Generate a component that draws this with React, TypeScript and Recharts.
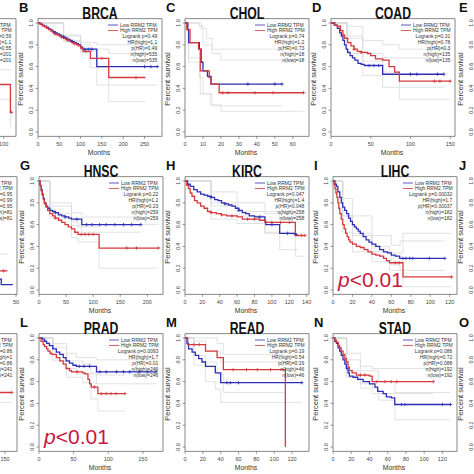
import React from "react";
import { ComposedChart, Line, XAxis, YAxis, ReferenceArea } from "recharts";

// each point: [months, survival, censored?]
type Pt = number[];

const yTicks = [0, 0.2, 0.4, 0.6, 0.8, 1.0];

// ---- A (cut off at the left) ----
const aLow: Pt[] = [[0, 1], [20, 0.85], [40, 0.72], [60, 0.62], [80, 0.55], [95, 0.5, 1]];
const aHigh: Pt[] = [[0, 1], [20, 0.83], [40, 0.68], [60, 0.58], [80, 0.5], [95, 0.436], [106, 0.18], [107, 0.18, 1]];
const aHighU: Pt[] = [[0, 1], [40, 0.8], [80, 0.62], [95, 0.57], [107, 0.57]];
const aHighL: Pt[] = [[0, 1], [40, 0.55], [80, 0.4], [95, 0.3], [106, 0.05], [107, 0.05]];
const aStats = ["Logrank p=0.59", "HR(high)=1.1", "p(HR)=0.55", "n(high)=201", "n(low)=201"];

// ---- B BRCA ----
const brcaTicks = [0, 50, 100, 150, 200, 250];
const brcaLow: Pt[] = [
  [0, 1], [5, 0.99], [10, 0.98], [15, 0.97], [20, 0.96], [25, 0.945], [30, 0.935], [35, 0.92],
  [40, 0.91, 1], [45, 0.9], [50, 0.89], [55, 0.88], [60, 0.87, 1], [65, 0.86], [70, 0.85],
  [75, 0.84], [80, 0.83, 1], [85, 0.82], [90, 0.81], [95, 0.8], [100, 0.78], [104, 0.76],
  [110, 0.76, 1], [118, 0.76, 1], [126, 0.76, 1], [138, 0.6], [250, 0.6, 1], [265, 0.6, 1], [280, 0.6, 1],
];
const brcaHigh: Pt[] = [
  [0, 1], [5, 0.99], [10, 0.975], [15, 0.965], [20, 0.95], [25, 0.94], [30, 0.925], [35, 0.91],
  [40, 0.9, 1], [45, 0.89], [50, 0.88], [55, 0.87, 1], [60, 0.86], [65, 0.85], [70, 0.84, 1],
  [75, 0.83], [80, 0.82], [85, 0.81, 1], [90, 0.8], [95, 0.79], [100, 0.77], [106, 0.74],
  [112, 0.74, 1], [123, 0.675], [150, 0.675, 1], [166, 0.5], [230, 0.5, 1], [252, 0.5],
];
const brcaLowU: Pt[] = [[0, 1], [60, 0.89], [100, 0.82], [138, 0.8], [280, 0.8]];
const brcaLowL: Pt[] = [[0, 1], [60, 0.84], [100, 0.74], [138, 0.43], [280, 0.43]];
const brcaHighU: Pt[] = [[0, 1], [60, 0.88], [100, 0.8], [123, 0.76], [166, 0.72], [252, 0.72]];
const brcaHighL: Pt[] = [[0, 1], [60, 0.83], [100, 0.73], [123, 0.59], [166, 0.28], [252, 0.28]];
const brcaStats = ["Logrank p=0.49", "HR(high)=1.1", "p(HR)=0.49", "n(high)=535", "n(low)=535"];

// ---- C CHOL ----
const cholTicks = [0, 10, 20, 30, 40, 50, 60];
const cholLow: Pt[] = [
  [0, 1], [1.5, 0.94], [2, 0.82], [8, 0.76], [9, 0.64], [10, 0.56], [12.5, 0.51], [14.5, 0.44],
  [35, 0.44, 1], [50, 0.44, 1], [54, 0.44, 1],
];
const cholHigh: Pt[] = [
  [0, 1], [1, 0.94], [2.8, 0.82], [7.5, 0.76], [8.5, 0.56], [13.5, 0.5], [14.5, 0.44], [19, 0.36],
  [21, 0.36, 1], [24, 0.36, 1], [39, 0.36, 1], [49, 0.36, 1], [66, 0.36, 1],
];
const cholLowU: Pt[] = [[0, 1], [9, 0.95], [12, 0.86], [15, 0.76], [54, 0.76]];
const cholLowL: Pt[] = [[0, 1], [2, 0.64], [8, 0.5], [10, 0.35], [15, 0.24], [54, 0.24]];
const cholHighU: Pt[] = [[0, 1], [8, 0.97], [10, 0.8], [15, 0.72], [20, 0.66], [66, 0.66]];
const cholHighL: Pt[] = [[0, 1], [2, 0.68], [8.5, 0.35], [14, 0.25], [20, 0.19], [66, 0.19]];
const cholStats = ["Logrank p=0.74", "HR(high)=1.2", "p(HR)=0.73", "n(high)=18", "n(low)=18"];

// ---- D COAD ----
const coadTicks = [0, 50, 100, 150];
const coadLow: Pt[] = [
  [0, 1], [4, 0.98], [8, 0.95], [11, 0.91], [13, 0.88], [15, 0.84], [17, 0.8], [19, 0.76],
  [21, 0.73], [24, 0.7], [27, 0.68], [30, 0.66], [34, 0.63], [38, 0.62], [42, 0.61],
  [48, 0.61, 1], [54, 0.61, 1], [60, 0.61, 1], [65, 0.53], [100, 0.53, 1], [108, 0.53, 1],
  [134, 0.53, 1], [142, 0.53, 1],
];
const coadHigh: Pt[] = [
  [0, 1], [5, 0.98], [8, 0.97], [12, 0.93], [15, 0.89], [17, 0.86], [21, 0.82], [25, 0.79],
  [29, 0.76, 1], [33, 0.74], [38, 0.73, 1], [46, 0.72], [50, 0.7], [56, 0.67], [65, 0.66],
  [73, 0.6], [80, 0.55], [86, 0.466], [130, 0.466, 1], [137, 0.466, 1], [150, 0.466, 1],
];
const coadLowU: Pt[] = [[0, 1], [20, 0.88], [40, 0.72], [65, 0.68], [142, 0.68]];
const coadLowL: Pt[] = [[0, 1], [20, 0.72], [40, 0.52], [65, 0.41], [142, 0.41]];
const coadHighU: Pt[] = [[0, 1], [20, 0.97], [40, 0.84], [65, 0.8], [86, 0.76], [150, 0.76]];
const coadHighL: Pt[] = [[0, 1], [20, 0.86], [40, 0.65], [65, 0.55], [86, 0.3], [150, 0.3]];
const coadStats = ["Logrank p=0.31", "HR(high)=0.78", "p(HR)=0.3", "n(high)=135", "n(low)=135"];

// ---- F (cut off at the left) ----
const fLow: Pt[] = [[0, 1], [10, 0.6], [20, 0.35], [30, 0.2], [40, 0.1], [44, 0.05], [48.7, 0.05]];
const fHigh: Pt[] = [[0, 1], [10, 0.62], [20, 0.38], [30, 0.25], [40, 0.176], [45, 0.176, 1], [46.5, 0.176]];
const fHighU: Pt[] = [[0, 1], [20, 0.52], [40, 0.33], [46.5, 0.33]];
const fStats = ["Logrank p=0.95", "HR(high)=0.99", "p(HR)=0.95", "n(high)=81", "n(low)=81"];

// ---- G HNSC ----
const hnscTicks = [0, 50, 100, 150, 200];
const hnscLow: Pt[] = [
  [0, 1], [2, 0.96], [4, 0.92], [6, 0.88], [8, 0.84], [10, 0.8], [13, 0.77], [16, 0.75],
  [20, 0.73], [25, 0.72], [30, 0.71, 1], [36, 0.69], [42, 0.68], [48, 0.67, 1], [55, 0.66],
  [60, 0.65], [70, 0.65, 1], [79, 0.6], [88, 0.6, 1], [98, 0.6, 1], [112, 0.6, 1], [124, 0.6, 1],
  [140, 0.6, 1], [156, 0.6, 1], [171, 0.6, 1], [188, 0.6, 1],
];
const hnscHigh: Pt[] = [
  [0, 1], [2, 0.96], [4, 0.91], [6, 0.87], [8, 0.83], [10, 0.79], [13, 0.76], [16, 0.73],
  [20, 0.7], [25, 0.68], [30, 0.66, 1], [36, 0.64], [42, 0.62], [48, 0.6], [54, 0.58],
  [60, 0.56], [66, 0.53], [72, 0.51], [78, 0.51, 1], [85, 0.51, 1], [92, 0.51, 1], [100, 0.51, 1],
  [111, 0.385], [162, 0.385, 1], [180, 0.385, 1], [221, 0.385, 1],
];
const hnscLowU: Pt[] = [[0, 1], [20, 0.8], [60, 0.71], [79, 0.67], [188, 0.67]];
const hnscLowL: Pt[] = [[0, 1], [20, 0.7], [60, 0.59], [79, 0.53], [188, 0.53]];
const hnscHighU: Pt[] = [[0, 1], [20, 0.77], [60, 0.63], [72, 0.58], [111, 0.6], [221, 0.6]];
const hnscHighL: Pt[] = [[0, 1], [20, 0.66], [60, 0.48], [72, 0.44], [111, 0.2], [221, 0.2]];
const hnscStats = ["Logrank p=0.22", "HR(high)=1.2", "p(HR)=0.23", "n(high)=259", "n(low)=259"];

// ---- H KIRC ----
const kircTicks = [0, 20, 40, 60, 80, 100, 120, 140];
const kircLow: Pt[] = [
  [0, 1], [3, 0.97], [6, 0.95], [10, 0.92], [14, 0.9], [18, 0.88], [22, 0.87], [26, 0.86],
  [30, 0.85, 1], [34, 0.83], [38, 0.82], [42, 0.8], [46, 0.79, 1], [50, 0.78], [54, 0.77],
  [58, 0.75], [62, 0.73, 1], [66, 0.71], [70, 0.7], [74, 0.68], [80, 0.67], [86, 0.67, 1],
  [92, 0.63], [93, 0.6], [100, 0.6, 1], [109, 0.52], [118, 0.52, 1], [126, 0.51], [128, 0.51, 1],
];
const kircHigh: Pt[] = [
  [0, 1], [2, 0.96], [4, 0.93], [6, 0.89], [8, 0.86], [11, 0.82], [14, 0.8], [18, 0.77],
  [22, 0.75], [26, 0.72], [30, 0.71, 1], [36, 0.7], [42, 0.69, 1], [48, 0.68], [54, 0.68, 1],
  [60, 0.67], [66, 0.65], [72, 0.65, 1], [80, 0.65, 1], [86, 0.64], [92, 0.62], [100, 0.62, 1],
  [110, 0.62, 1], [120, 0.62, 1], [127, 0.5], [134, 0.5, 1], [138, 0.5, 1],
];
const kircLowU: Pt[] = [[0, 1], [30, 0.9], [60, 0.8], [92, 0.72], [109, 0.66], [130, 0.66]];
const kircLowL: Pt[] = [[0, 1], [30, 0.8], [60, 0.68], [92, 0.52], [109, 0.37], [130, 0.37]];
const kircHighU: Pt[] = [[0, 1], [30, 0.77], [60, 0.72], [92, 0.7], [127, 0.68], [138, 0.68]];
const kircHighL: Pt[] = [[0, 1], [30, 0.65], [60, 0.61], [92, 0.53], [127, 0.31], [138, 0.31]];
const kircStats = ["Logrank p=0.047", "HR(high)=1.4", "p(HR)=0.048", "n(high)=258", "n(low)=258"];

// ---- I LIHC ----
const lihcTicks = [0, 20, 40, 60, 80, 100, 120];
const lihcLow: Pt[] = [
  [0, 1], [2, 0.97], [3.5, 0.95], [5, 0.9], [7, 0.85], [8.5, 0.8], [10, 0.76], [12, 0.73],
  [14, 0.7], [16, 0.66], [18, 0.63], [20, 0.6], [22, 0.58], [24, 0.56], [26, 0.54], [28, 0.52],
  [31, 0.49], [34, 0.46], [37, 0.44], [40, 0.42], [44, 0.4], [48, 0.37], [52, 0.35], [56, 0.34],
  [60, 0.32], [64, 0.31], [68.6, 0.29], [72, 0.29, 1], [75, 0.29, 1], [79, 0.29, 1], [82, 0.29, 1],
  [99, 0.29, 1], [115, 0.29, 1],
];
const lihcHigh: Pt[] = [
  [0, 1], [1, 0.97], [2, 0.93], [3, 0.89], [4, 0.85], [5, 0.8], [6, 0.75], [7, 0.7], [8.5, 0.65],
  [10, 0.6], [11.5, 0.56], [13, 0.52], [14.5, 0.49], [16, 0.46], [17.5, 0.44], [20, 0.42],
  [24, 0.4], [28, 0.39], [32, 0.37], [36, 0.35], [40, 0.33], [44, 0.32], [48, 0.31], [52, 0.29],
  [55, 0.27], [58, 0.25], [64, 0.25, 1], [68, 0.25, 1], [72, 0.12], [122, 0.12, 1],
];
const lihcLowU: Pt[] = [[0, 1], [10, 0.84], [20, 0.68], [40, 0.5], [60, 0.41], [69, 0.45], [115, 0.45]];
const lihcLowL: Pt[] = [[0, 1], [10, 0.68], [20, 0.52], [40, 0.35], [60, 0.23], [69, 0.18], [115, 0.18]];
const lihcHighU: Pt[] = [[0, 1], [10, 0.68], [20, 0.5], [40, 0.4], [58, 0.34], [72, 0.52], [122, 0.52]];
const lihcHighL: Pt[] = [[0, 1], [10, 0.53], [20, 0.35], [40, 0.26], [58, 0.18], [72, 0.03], [122, 0.03]];
const lihcStats = ["Logrank p=0.00032", "HR(high)=1.7", "p(HR)=0.00037", "n(high)=182", "n(low)=182"];

// ---- K (cut off at the left) ----
const kLow: Pt[] = [[0, 1], [50, 0.85], [100, 0.72], [130, 0.66, 1]];
const kHigh: Pt[] = [[0, 1], [50, 0.8], [100, 0.6], [130, 0.5], [159, 0.5, 1]];
const kHighL: Pt[] = [[0, 1], [100, 0.5], [130, 0.41], [159, 0.41]];
const kStats = ["Logrank p=0.86", "HR(high)=1", "p(HR)=0.86", "n(high)=241", "n(low)=241"];

// ---- L PRAD ----
const pradTicks = [0, 50, 100, 150];
const pradLow: Pt[] = [
  [0, 1], [5, 0.99], [8, 0.97], [11, 0.95], [15, 0.93], [20, 0.9], [25, 0.87], [30, 0.85],
  [35, 0.82], [39, 0.79], [44, 0.77], [49, 0.75], [54, 0.74], [58, 0.74, 1], [65, 0.74, 1],
  [73, 0.74, 1], [83, 0.69], [88, 0.69, 1], [97, 0.69, 1], [112, 0.69, 1], [122, 0.69, 1],
  [131, 0.69, 1], [145, 0.69, 1], [157, 0.69, 1], [169, 0.69, 1],
];
const pradHigh: Pt[] = [
  [0, 1], [3, 0.97], [6, 0.94], [8, 0.92], [11, 0.9], [13, 0.88], [16, 0.86], [18, 0.85],
  [25, 0.82], [30, 0.79], [35, 0.76], [39, 0.72], [44, 0.7], [47, 0.69], [55, 0.69, 1],
  [63, 0.68], [66, 0.67], [70.7, 0.62], [73, 0.58], [75.5, 0.55], [80, 0.55, 1], [85, 0.49],
  [90, 0.49, 1], [97, 0.49, 1], [104, 0.49, 1], [111, 0.49, 1], [124, 0.49, 1],
];
const pradLowU: Pt[] = [[0, 1], [20, 0.95], [40, 0.86], [54, 0.82], [83, 0.8], [169, 0.8]];
const pradLowL: Pt[] = [[0, 1], [20, 0.85], [40, 0.72], [54, 0.67], [83, 0.58], [169, 0.58]];
const pradHighU: Pt[] = [[0, 1], [20, 0.91], [40, 0.79], [63, 0.76], [75, 0.68], [85, 0.66], [124, 0.66]];
const pradHighL: Pt[] = [[0, 1], [20, 0.79], [40, 0.64], [63, 0.59], [75, 0.44], [85, 0.33], [124, 0.33]];
const pradStats = ["Logrank p=0.0093", "HR(high)=1.7", "p(HR)=0.01", "n(high)=246", "n(low)=246"];

// ---- M READ ----
const readTicks = [0, 20, 40, 60, 80, 100, 120];
const readLow: Pt[] = [
  [0, 1], [2.2, 0.95], [4, 0.9], [8, 0.87], [11.6, 0.84], [15.3, 0.81], [19, 0.78], [23, 0.74],
  [34, 0.68], [40, 0.59], [47, 0.59, 1], [51, 0.59, 1], [60, 0.59, 1], [131, 0.59, 1],
];
const readHigh: Pt[] = [
  [0, 1], [3, 0.94], [10, 0.94, 1], [16, 0.94, 1], [23, 0.88], [36, 0.82], [43, 0.71],
  [54, 0.71, 1], [69, 0.71, 1], [81, 0.71, 1], [96, 0.71, 1], [112.5, 0],
];
const readLowU: Pt[] = [[0, 1], [10, 0.97], [23, 0.88], [40, 0.78], [131, 0.78]];
const readLowL: Pt[] = [[0, 1], [10, 0.75], [23, 0.6], [34, 0.53], [40, 0.41], [131, 0.41]];
const readHighU: Pt[] = [[0, 1], [36, 0.95], [43, 0.85], [112, 0.85]];
const readHighL: Pt[] = [[0, 1], [10, 0.84], [23, 0.78], [36, 0.67], [43, 0.5], [112, 0.5]];
const readStats = ["Logrank p=0.19", "HR(high)=0.54", "p(HR)=0.19", "n(high)=46", "n(low)=46"];

// ---- N STAD ----
const stadTicks = [0, 20, 40, 60, 80, 100, 120];
const stadLow: Pt[] = [
  [0, 1], [2, 0.97], [3.7, 0.95], [5.5, 0.91], [7.3, 0.88], [9, 0.84], [11, 0.8], [13, 0.76],
  [14.6, 0.72], [16.5, 0.68], [18, 0.65], [22, 0.64], [27, 0.62], [33, 0.6], [40, 0.58],
  [46, 0.55], [49, 0.51], [55, 0.49], [58.5, 0.46], [64, 0.45], [67.7, 0.39], [75, 0.39, 1],
  [79, 0.39, 1], [120, 0.39, 1], [128.8, 0.39, 1],
];
const stadHigh: Pt[] = [
  [0, 1], [2, 0.98], [4, 0.96], [6, 0.93], [7.3, 0.91], [9, 0.88], [11, 0.85], [13, 0.81],
  [14.6, 0.78], [16.5, 0.73], [18, 0.7], [21, 0.68], [25.6, 0.66], [30, 0.66, 1], [35, 0.66, 1],
  [40, 0.65], [43, 0.6], [48, 0.6, 1], [57, 0.6, 1], [64, 0.6, 1], [70, 0.6, 1], [110, 0.6, 1],
];
const stadLowU: Pt[] = [[0, 1], [15, 0.8], [30, 0.7], [50, 0.6], [68, 0.5], [129, 0.5]];
const stadLowL: Pt[] = [[0, 1], [15, 0.64], [30, 0.54], [50, 0.43], [68, 0.25], [129, 0.25]];
const stadHighU: Pt[] = [[0, 1], [15, 0.86], [30, 0.74], [43, 0.72], [110, 0.72]];
const stadHighL: Pt[] = [[0, 1], [15, 0.7], [30, 0.58], [43, 0.49], [110, 0.49]];
const stadStats = ["Logrank p=0.086", "HR(high)=0.72", "p(HR)=0.088", "n(high)=192", "n(low)=192"];

const BLUE = "#2e2eb6";
const RED = "#d6393c";
const CI_GREY = "#d6d6d6";
const SIG = "#c8173c";
const FONT = "'Liberation Sans', Arial, Helvetica, sans-serif";

interface PanelDef {
  letter: string;
  title: string;
  x0: number; // page x of month 0
  y1: number; // page y of survival 1.0
  xMax: number;
  xTicks: number[];
  low: Pt[];
  high: Pt[];
  ci: Pt[][];
  stats: string[];
  sig?: boolean;
}

const panels: PanelDef[] = [
  { letter: "A", title: "", x0: -108.5, y1: 23, xMax: 111, xTicks: [0, 20, 40, 60, 80, 100], low: aLow, high: aHigh, ci: [aHighU, aHighL], stats: aStats },
  { letter: "B", title: "BRCA", x0: 38, y1: 23, xMax: 291, xTicks: brcaTicks, low: brcaLow, high: brcaHigh, ci: [brcaLowU, brcaLowL, brcaHighU, brcaHighL], stats: brcaStats },
  { letter: "C", title: "CHOL", x0: 185, y1: 23, xMax: 69, xTicks: cholTicks, low: cholLow, high: cholHigh, ci: [cholLowU, cholLowL, cholHighU, cholHighL], stats: cholStats },
  { letter: "D", title: "COAD", x0: 331, y1: 23, xMax: 156, xTicks: coadTicks, low: coadLow, high: coadHigh, ci: [coadLowU, coadLowL, coadHighU, coadHighL], stats: coadStats },
  { letter: "E", title: "", x0: 477.5, y1: 23, xMax: 100, xTicks: [0, 50, 100], low: [], high: [], ci: [], stats: [] },
  { letter: "F", title: "", x0: -107.5, y1: 180.5, xMax: 50.4, xTicks: [0, 10, 20, 30, 40, 50], low: fLow, high: fHigh, ci: [fHighU], stats: fStats },
  { letter: "G", title: "HNSC", x0: 39, y1: 180.5, xMax: 229, xTicks: hnscTicks, low: hnscLow, high: hnscHigh, ci: [hnscLowU, hnscLowL, hnscHighU, hnscHighL], stats: hnscStats },
  { letter: "H", title: "KIRC", x0: 185, y1: 180.5, xMax: 142.7, xTicks: kircTicks, low: kircLow, high: kircHigh, ci: [kircLowU, kircLowL, kircHighU, kircHighL], stats: kircStats },
  { letter: "I", title: "LIHC", x0: 333, y1: 180.5, xMax: 127.5, xTicks: lihcTicks, low: lihcLow, high: lihcHigh, ci: [lihcLowU, lihcLowL, lihcHighU, lihcHighL], stats: lihcStats, sig: true },
  { letter: "J", title: "", x0: 477.5, y1: 180.5, xMax: 100, xTicks: [0, 50, 100], low: [], high: [], ci: [], stats: [] },
  { letter: "K", title: "", x0: -107, y1: 338, xMax: 166, xTicks: [0, 50, 100, 150], low: kLow, high: kHigh, ci: [kHighL], stats: kStats },
  { letter: "L", title: "PRAD", x0: 39, y1: 338, xMax: 179, xTicks: pradTicks, low: pradLow, high: pradHigh, ci: [pradLowU, pradLowL, pradHighU, pradHighL], stats: pradStats, sig: true },
  { letter: "M", title: "READ", x0: 185, y1: 338, xMax: 139, xTicks: readTicks, low: readLow, high: readHigh, ci: [readLowU, readLowL, readHighU, readHighL], stats: readStats },
  { letter: "N", title: "STAD", x0: 333, y1: 338, xMax: 136, xTicks: stadTicks, low: stadLow, high: stadHigh, ci: [stadLowU, stadLowL, stadHighU, stadHighL], stats: stadStats },
  { letter: "O", title: "", x0: 477.5, y1: 338, xMax: 100, xTicks: [0, 50, 100], low: [], high: [], ci: [], stats: [] },
];

const toRows = (pts: Pt[]) => pts.map(([t, s, c]) => ({ t, s, c: c ? 1 : 0 }));

function censorDot(color: string) {
  return (props: any) => {
    const { cx, cy, payload, index } = props;
    if (!payload || !payload.c || cx == null || cy == null) return <g key={`n${index}`} />;
    return (
      <path
        key={`c${index}`}
        d={`M${cx - 1.7},${cy}H${cx + 1.7}M${cx},${cy - 1.7}V${cy + 1.7}`}
        stroke={color}
        strokeWidth={0.8}
        fill="none"
      />
    );
  };
}

const renderXTick = (props: any) => {
  const { x, y, payload } = props;
  return (
    <text x={x} y={y + 7.5} textAnchor="middle" fontSize={5.5} fill="#444" fontFamily={FONT}>
      {payload.value}
    </text>
  );
};

const renderYTick = (props: any) => {
  const { x, y, payload } = props;
  return (
    <text transform={`translate(${x - 2.5},${y}) rotate(-90)`} textAnchor="middle" fontSize={5.3} fill="#444" fontFamily={FONT}>
      {Number(payload.value).toFixed(1)}
    </text>
  );
};

function KmPanel({ p }: { p: PanelDef }) {
  // plot box: x 40..164, y 20.64..138.36 in panel coordinates (1.0 at y=25)
  return (
    <div style={{ position: "absolute", left: p.x0 - 40, top: p.y1 - 25, width: 170, height: 175 }}>
      <ComposedChart width={170} height={160} margin={{ top: 20.64, right: 6, bottom: 1.64, left: 30 }}>
        <XAxis
          type="number"
          dataKey="t"
          domain={[0, p.xMax]}
          ticks={p.xTicks}
          interval={0}
          allowDataOverflow
          axisLine={false}
          tickSize={2.5}
          tickMargin={0}
          tickLine={{ stroke: "#555", strokeWidth: 0.6 }}
          tick={renderXTick}
          height={20}
        />
        <YAxis
          type="number"
          domain={[-0.04, 1.04]}
          ticks={yTicks}
          interval={0}
          allowDataOverflow
          axisLine={false}
          tickSize={2.5}
          tickMargin={0}
          tickLine={{ stroke: "#555", strokeWidth: 0.6 }}
          tick={renderYTick}
          width={10}
        />
        <ReferenceArea x1={0} x2={p.xMax} y1={-0.04} y2={1.04} fill="none" fillOpacity={0} stroke="#555" strokeWidth={0.7} />
        {p.ci.map((c, i) => (
          <Line key={`ci${i}`} data={toRows(c)} dataKey="s" type="stepAfter" stroke={CI_GREY} strokeWidth={0.7} dot={false} activeDot={false} isAnimationActive={false} />
        ))}
        {p.low.length > 0 && (
          <Line data={toRows(p.low)} dataKey="s" type="stepAfter" stroke={BLUE} strokeWidth={1.3} dot={censorDot(BLUE)} activeDot={false} isAnimationActive={false} />
        )}
        {p.high.length > 0 && (
          <Line data={toRows(p.high)} dataKey="s" type="stepAfter" stroke={RED} strokeWidth={1.3} dot={censorDot(RED)} activeDot={false} isAnimationActive={false} />
        )}
      </ComposedChart>
      <svg
        width={175}
        height={175}
        style={{ position: "absolute", left: 0, top: 0, overflow: "visible", pointerEvents: "none" }}
        fontFamily={FONT}
      >
        <text x={21} y={14} fontSize={13} fontWeight="bold" fill="#111">{p.letter}</text>
        {p.title && (
          <text transform="translate(102,21) scale(0.72,1)" textAnchor="middle" fontSize={17} fontWeight="bold" fill="#111">
            {p.title}
          </text>
        )}
        <text transform="translate(25,81) rotate(-90)" textAnchor="middle" fontSize={7.5} fill="#333">Percent survival</text>
        <text x={101} y={157.4} textAnchor="middle" fontSize={6.8} fill="#333">Months</text>
        {p.stats.length > 0 && (
          <g>
            <line x1={110} x2={120} y1={27} y2={27} stroke={BLUE} strokeWidth={0.8} />
            <text x={122} y={28.7} fontSize={5} fill="#333">Low RRM2 TPM</text>
            <line x1={110} x2={120} y1={32.5} y2={32.5} stroke={RED} strokeWidth={0.8} />
            <text x={122} y={34.2} fontSize={5} fill="#333">High RRM2 TPM</text>
            {p.stats.map((s, i) => (
              <text key={s} x={159.3} y={39.7 + i * 6} textAnchor="end" fontSize={5} fill="#333">{s}</text>
            ))}
          </g>
        )}
        {p.sig && (
          <text x={45} y={131} fontSize={21} fill={SIG}>
            <tspan fontStyle="italic">p</tspan>
            {"<0.01"}
          </text>
        )}
      </svg>
    </div>
  );
}

export default function App() {
  return (
    <div style={{ position: "fixed", left: 0, top: 0, width: 474, height: 474, overflow: "hidden", background: "#fff" }}>
      {panels.map((p) => (
        <KmPanel key={p.letter} p={p} />
      ))}
    </div>
  );
}
